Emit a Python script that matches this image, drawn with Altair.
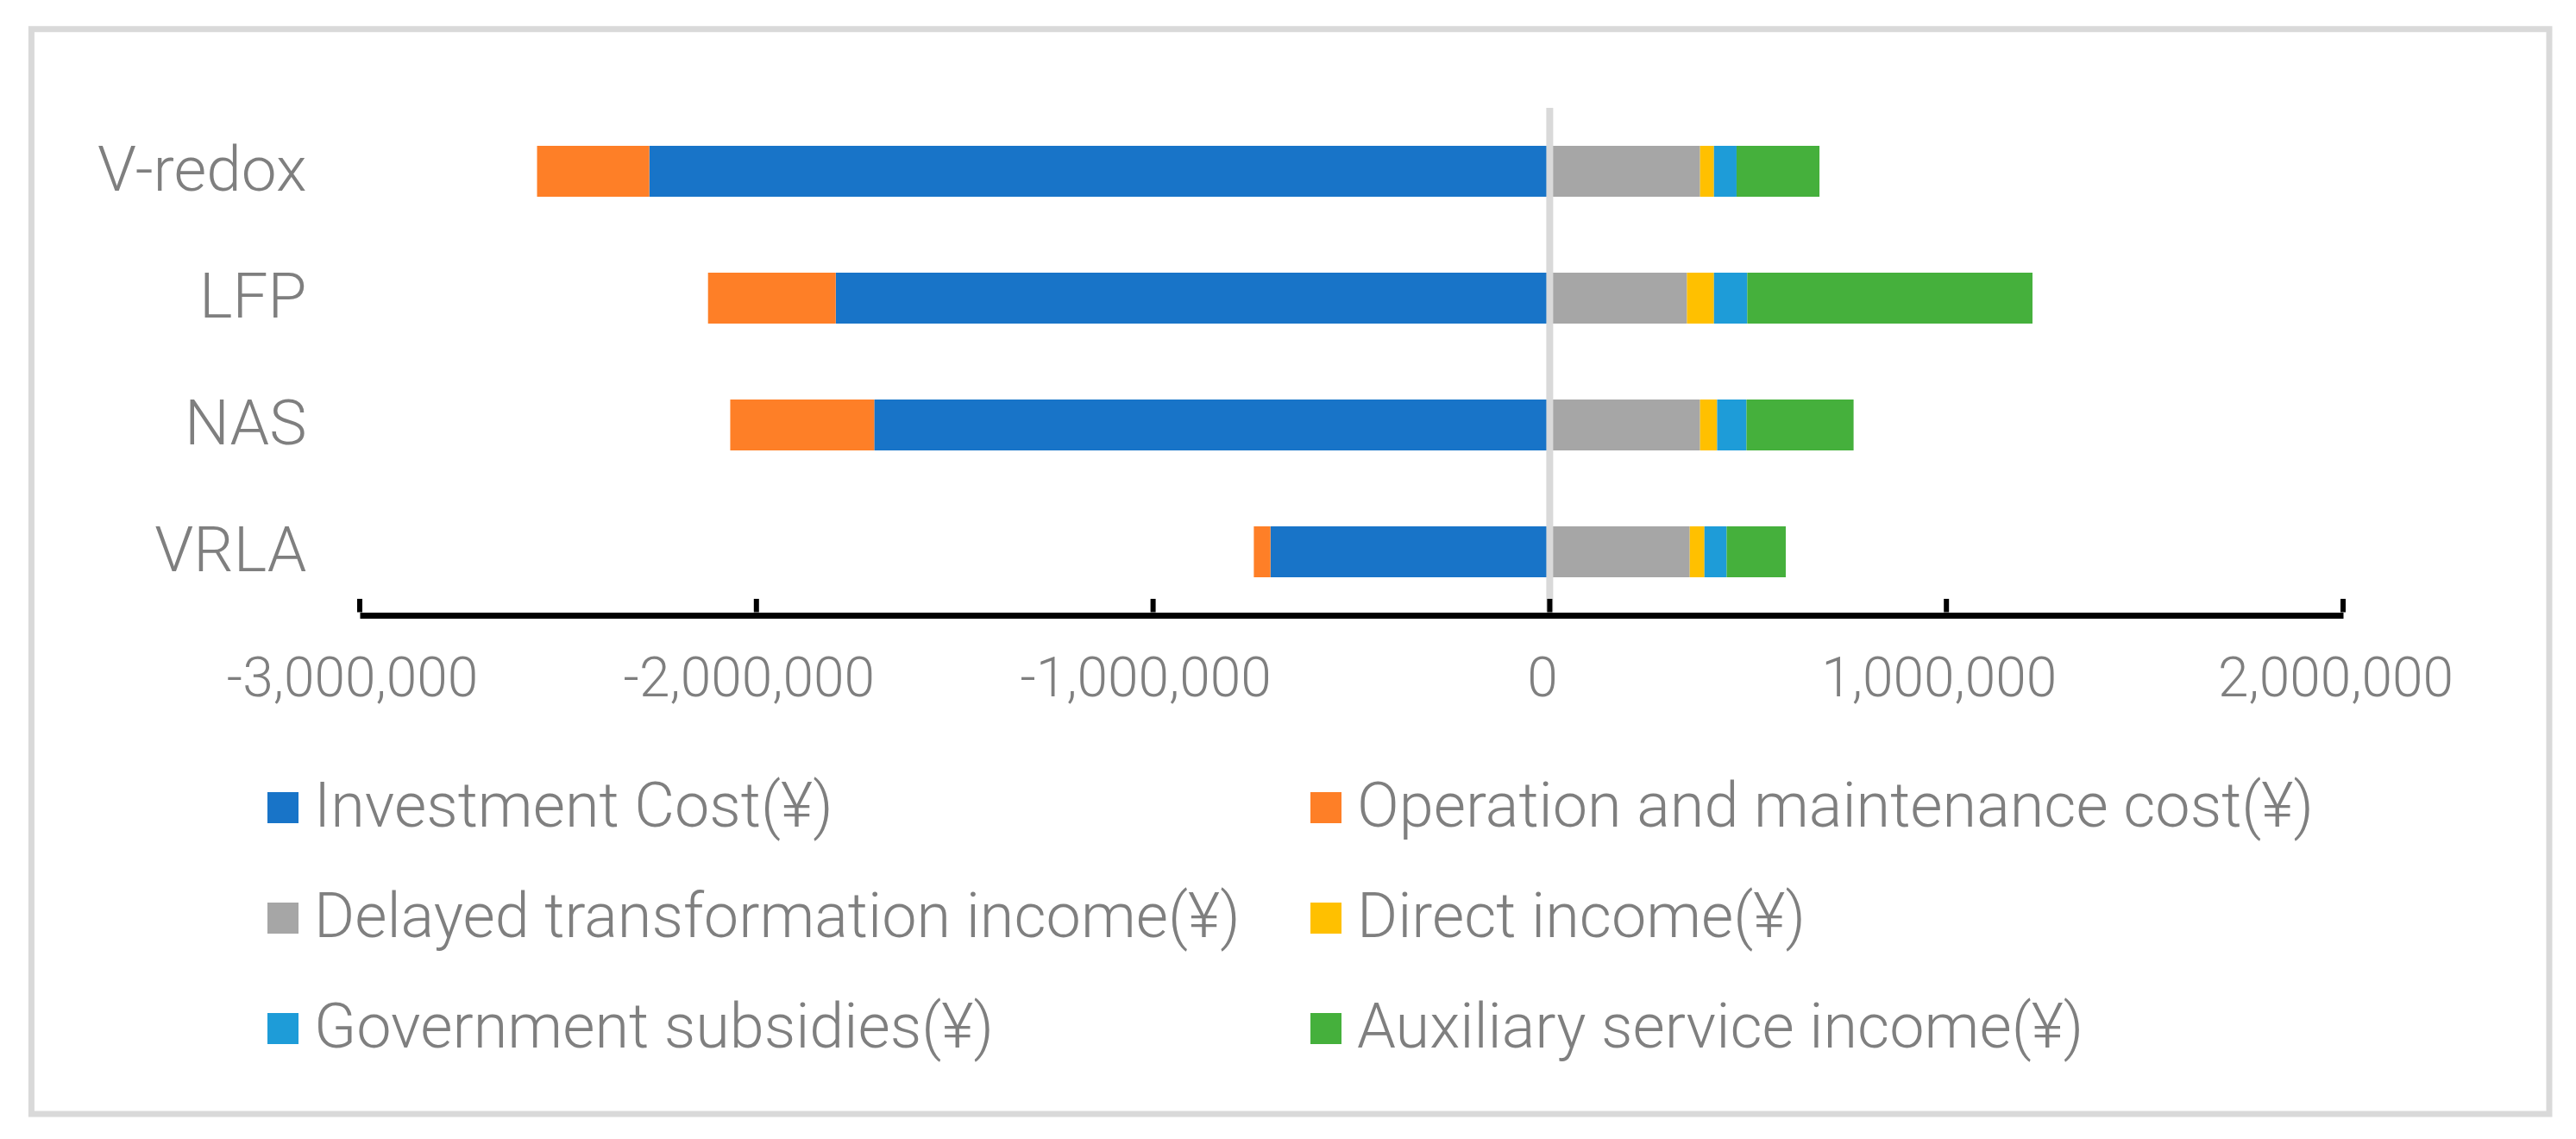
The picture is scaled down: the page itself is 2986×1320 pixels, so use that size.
import altair as alt
import pandas as pd

categories = ["V-redox", "LFP", "NAS", "VRLA"]
series = [
    "Investment Cost(¥)",
    "Operation and maintenance cost(¥)",
    "Delayed transformation income(¥)",
    "Direct income(¥)",
    "Government subsidies(¥)",
    "Auxiliary service income(¥)",
]
investment = [-2270000, -1800000, -1703000, -704000]
om_cost = [-283000, -322000, -363000, -42000]
delayed = [379000, 346000, 379000, 353000]
direct = [35000, 68000, 43000, 37000]
gov = [57000, 84000, 74000, 56000]
aux = [209000, 719000, 270000, 149000]
colors = ["#1874C8", "#FE7F27", "#A6A6A6", "#FFC000", "#1E9CD8", "#45B03C"]
x_ticks = [-3000000, -2000000, -1000000, 0, 1000000, 2000000]

rows = []
for si, (name, vals) in enumerate(zip(series, [investment, om_cost, delayed, direct, gov, aux])):
    for c, v in zip(categories, vals):
        rows.append({"cat": c, "series": name, "value": v, "ord": si})
df = pd.DataFrame(rows)

W, H = 2299, 588
FONT = "Roboto"
GRAY = "#7f7f7f"

xscale = alt.Scale(domain=[-3000000, 2000000], nice=False, zero=False)


def x_axis():
    return alt.Axis(
        values=x_ticks, title=None, grid=False, ticks=False,
        domainColor="black", domainWidth=7, labelFontSize=64,
        labelColor=GRAY, labelFont=FONT, labelPadding=42, labelOffset=-9,
        labelFlush=False, labelFontWeight=300, labelLimit=1000,
        labelExpr="datum.value < 0 ? '-' + format(-datum.value, ',') : format(datum.value, ',')",
    )


border = alt.Chart(pd.DataFrame({"a": [0]})).mark_rect(
    fillOpacity=0, stroke="#d9d9d9", strokeWidth=7
).encode(
    x=alt.value(-380.6), x2=alt.value(2538), y=alt.value(-91.3), y2=alt.value(1166)
)

bars = alt.Chart(df).mark_bar().encode(
    y=alt.Y(
        "cat:N",
        sort=categories,
        scale=alt.Scale(paddingInner=0.6, paddingOuter=0.3),
        axis=alt.Axis(
            title=None, domain=False, ticks=False, labelFontSize=73,
            labelColor=GRAY, labelFont=FONT, labelPadding=62, labelFontWeight=300,
            labelLimit=1000,
        ),
    ),
    x=alt.X("value:Q", stack="zero", scale=xscale, axis=x_axis()),
    color=alt.Color(
        "series:N",
        sort=series,
        scale=alt.Scale(domain=series, range=colors),
        legend=alt.Legend(
            title=None, orient="none", legendX=-125, legendY=775, columns=2,
            direction="horizontal",
            symbolType="square", symbolSize=1296, symbolStrokeWidth=0,
            labelFontSize=72, labelFont=FONT, labelColor=GRAY, labelOffset=0,
            rowPadding=56, columnPadding=63, padding=0, labelLimit=3000,
            labelFontWeight=300, symbolOpacity=1,
        ),
    ),
    order=alt.Order("ord:Q"),
)

zero_rule = alt.Chart(pd.DataFrame({"value": [0]})).mark_rule(
    color="#d9d9d9", strokeWidth=8
).encode(
    x=alt.X("value:Q", scale=xscale, axis=x_axis()), y=alt.value(0), y2=alt.value(H - 3.5)
)

ticks = alt.Chart(pd.DataFrame({"value": x_ticks})).mark_rule(
    color="black", strokeWidth=6
).encode(
    x=alt.X("value:Q", scale=xscale, axis=x_axis()), y=alt.value(H - 19), y2=alt.value(H - 3.5)
)

chart = alt.layer(border, bars, zero_rule, ticks).properties(
    width=W,
    height=H,
    autosize=alt.AutoSizeParams(type="none"),
    padding={"left": 409, "top": 117, "right": 262, "bottom": 595},
    background="white",
).configure_view(stroke="transparent")

chart.save("out.html", embed_options={"renderer": "svg", "actions": False})
